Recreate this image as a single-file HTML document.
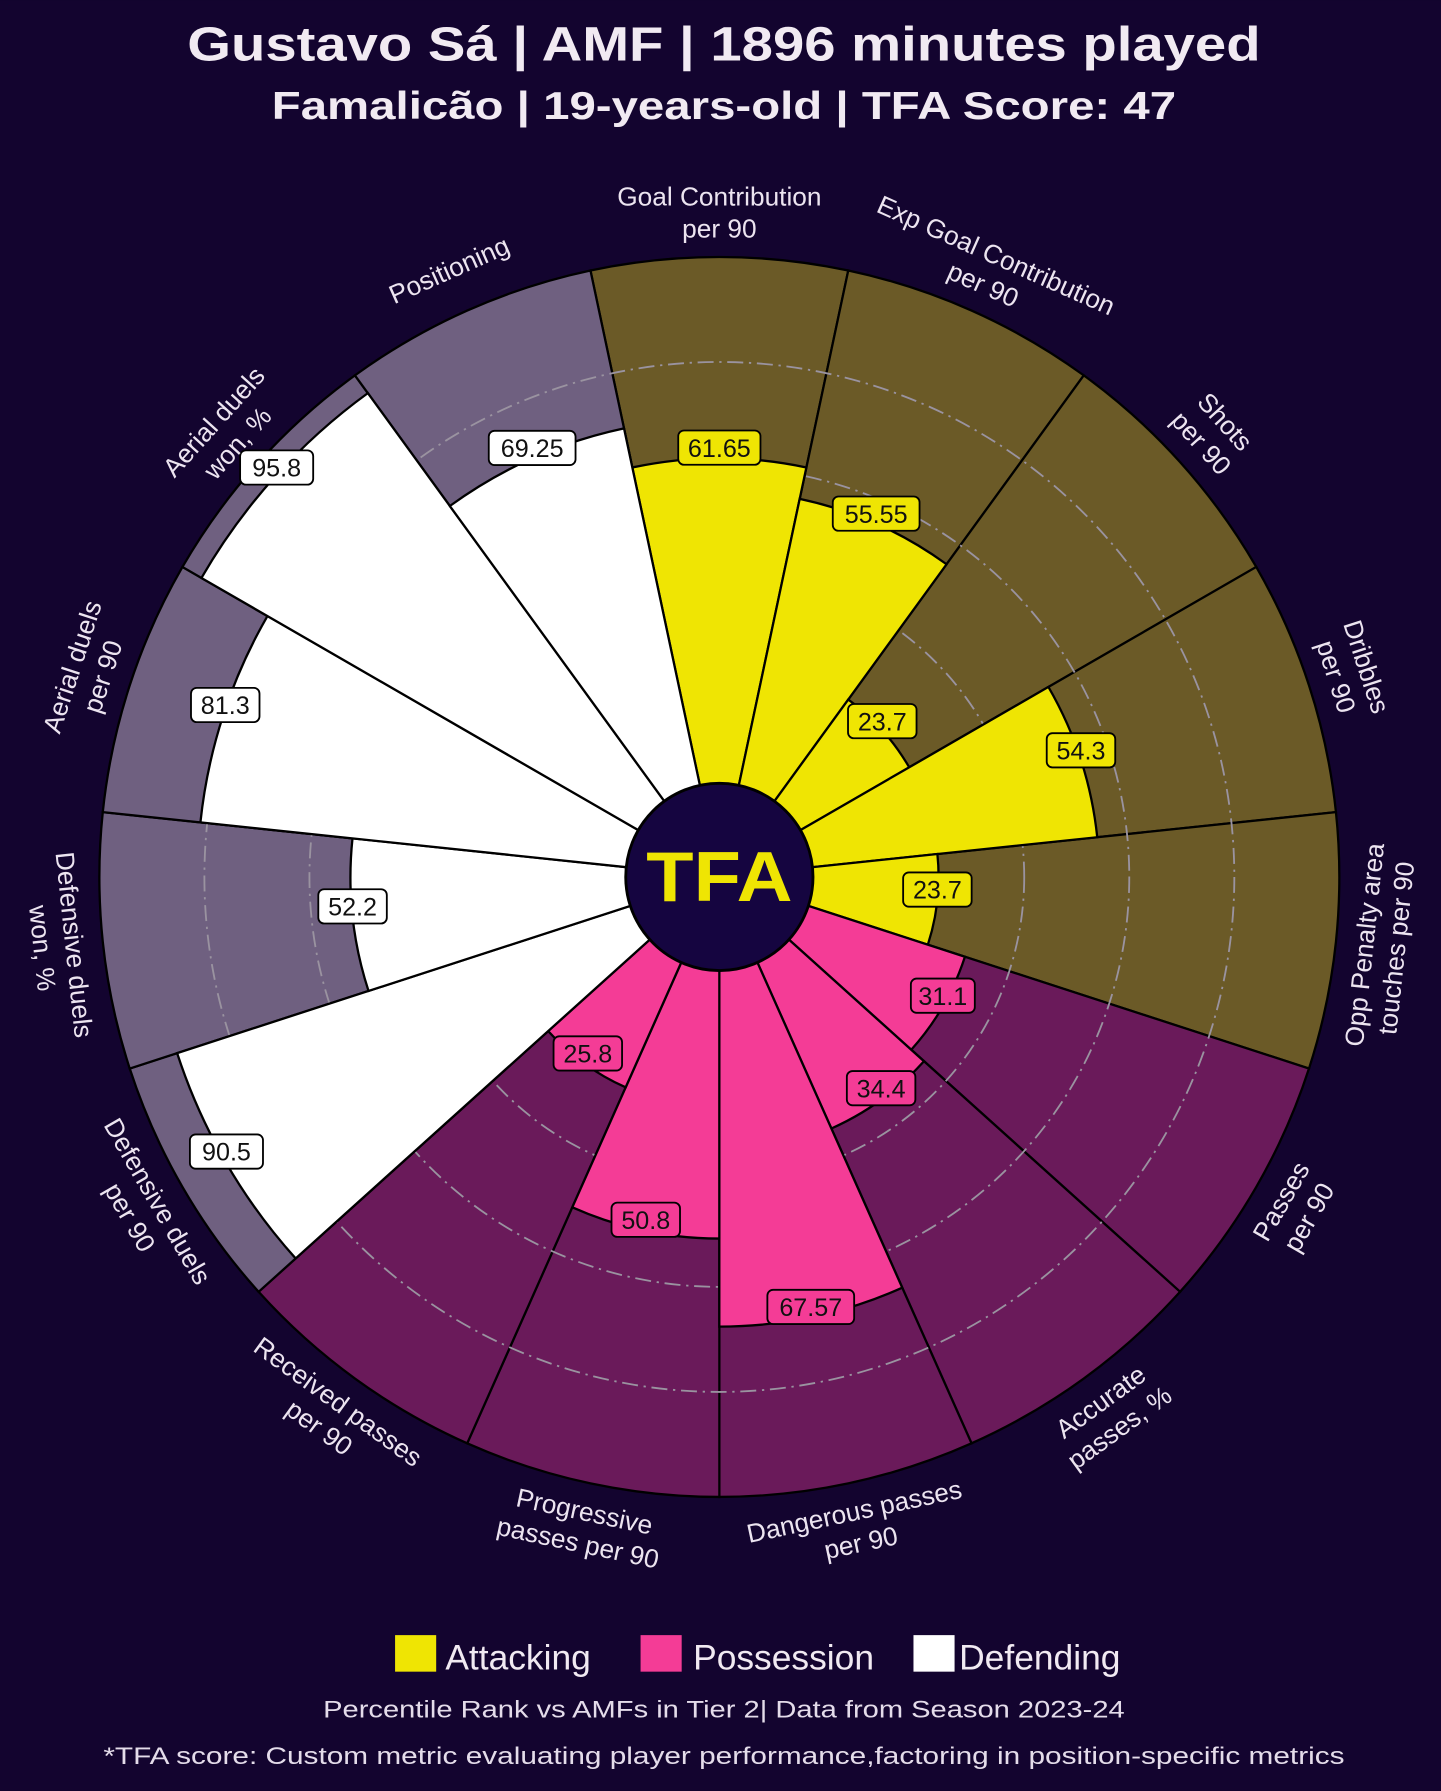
<!DOCTYPE html>
<html><head><meta charset="utf-8"><style>
html,body{margin:0;padding:0;background:#13042f;}
svg{display:block;}
text{font-family:"Liberation Sans",sans-serif;}
</style></head><body>
<svg width="1441" height="1791" viewBox="0 0 1262 1568.5" xmlns="http://www.w3.org/2000/svg">
<rect width="1262" height="1568.5" fill="#13042f"/>
<text x="634" y="53" text-anchor="middle" font-size="42" font-weight="bold" fill="#f1eaf2" textLength="940" lengthAdjust="spacingAndGlyphs">Gustavo Sá | AMF | 1896 minutes played</text>
<text x="634" y="104" text-anchor="middle" font-size="34" font-weight="bold" fill="#f1eaf2" textLength="792" lengthAdjust="spacingAndGlyphs">Famalicão | 19-years-old | TFA Score: 47</text>

<g transform="translate(630,768)" stroke="#000" stroke-width="2">
<g id="bgA"><path d="M0,0 L-112.9,-531.1 A543,543 0 0 1 112.9,-531.1 Z" fill="#6b5a27"/></g>
<use href="#bgA" transform="rotate(24)"/>
<use href="#bgA" transform="rotate(48)"/>
<use href="#bgA" transform="rotate(72)"/>
<use href="#bgA" transform="rotate(96)"/>
<path transform="rotate(120)" d="M0,0 L-112.9,-531.1 A543,543 0 0 1 112.9,-531.1 Z" fill="#6a1a5a"/>
<path transform="rotate(144)" d="M0,0 L-112.9,-531.1 A543,543 0 0 1 112.9,-531.1 Z" fill="#6a1a5a"/>
<path transform="rotate(168)" d="M0,0 L-112.9,-531.1 A543,543 0 0 1 112.9,-531.1 Z" fill="#6a1a5a"/>
<path transform="rotate(192)" d="M0,0 L-112.9,-531.1 A543,543 0 0 1 112.9,-531.1 Z" fill="#6a1a5a"/>
<path transform="rotate(216)" d="M0,0 L-112.9,-531.1 A543,543 0 0 1 112.9,-531.1 Z" fill="#6a1a5a"/>
<path transform="rotate(240)" d="M0,0 L-112.9,-531.1 A543,543 0 0 1 112.9,-531.1 Z" fill="#6f6080"/>
<path transform="rotate(264)" d="M0,0 L-112.9,-531.1 A543,543 0 0 1 112.9,-531.1 Z" fill="#6f6080"/>
<path transform="rotate(288)" d="M0,0 L-112.9,-531.1 A543,543 0 0 1 112.9,-531.1 Z" fill="#6f6080"/>
<path transform="rotate(312)" d="M0,0 L-112.9,-531.1 A543,543 0 0 1 112.9,-531.1 Z" fill="#6f6080"/>
<path transform="rotate(336)" d="M0,0 L-112.9,-531.1 A543,543 0 0 1 112.9,-531.1 Z" fill="#6f6080"/>
<g fill="none" stroke="#9a93a0" stroke-width="1.6" stroke-dasharray="14,5,2,5">
<circle r="175"/><circle r="267"/><circle r="359"/><circle r="451"/>
</g>
<path d="M0,0 L-76.2,-358.6 A366.6,366.6 0 0 1 76.2,-358.6 Z" fill="#efe503"/>
<path transform="rotate(24)" d="M0,0 L-70.4,-331.1 A338.5,338.5 0 0 1 70.4,-331.1 Z" fill="#efe503"/>
<path transform="rotate(48)" d="M0,0 L-39.9,-187.8 A192,192 0 0 1 39.9,-187.8 Z" fill="#efe503"/>
<path transform="rotate(72)" d="M0,0 L-69.2,-325.5 A332.8,332.8 0 0 1 69.2,-325.5 Z" fill="#efe503"/>
<path transform="rotate(96)" d="M0,0 L-39.9,-187.8 A192,192 0 0 1 39.9,-187.8 Z" fill="#efe503"/>
<path transform="rotate(120)" d="M0,0 L-47,-221.2 A226.1,226.1 0 0 1 47,-221.2 Z" fill="#f43c96"/>
<path transform="rotate(144)" d="M0,0 L-50.1,-235.9 A241.2,241.2 0 0 1 50.1,-235.9 Z" fill="#f43c96"/>
<path transform="rotate(168)" d="M0,0 L-81.9,-385.2 A393.8,393.8 0 0 1 81.9,-385.2 Z" fill="#f43c96"/>
<path transform="rotate(192)" d="M0,0 L-65.8,-309.8 A316.7,316.7 0 0 1 65.8,-309.8 Z" fill="#f43c96"/>
<path transform="rotate(216)" d="M0,0 L-41.9,-197.3 A201.7,201.7 0 0 1 41.9,-197.3 Z" fill="#f43c96"/>
<path transform="rotate(240)" d="M0,0 L-103.8,-488.4 A499.3,499.3 0 0 1 103.8,-488.4 Z" fill="#ffffff"/>
<path transform="rotate(264)" d="M0,0 L-67.2,-316 A323.1,323.1 0 0 1 67.2,-316 Z" fill="#ffffff"/>
<path transform="rotate(288)" d="M0,0 L-95,-447 A457,457 0 0 1 95,-447 Z" fill="#ffffff"/>
<path transform="rotate(312)" d="M0,0 L-108.9,-512.3 A523.7,523.7 0 0 1 108.9,-512.3 Z" fill="#ffffff"/>
<path transform="rotate(336)" d="M0,0 L-83.5,-392.8 A401.6,401.6 0 0 1 83.5,-392.8 Z" fill="#ffffff"/>
<circle r="82" fill="#150540" stroke="#000" stroke-width="2.5"/>
<text x="0" y="21" text-anchor="middle" font-size="62" font-weight="900" fill="#efe503" stroke="none" textLength="128" lengthAdjust="spacingAndGlyphs">TFA</text>
</g>

<g font-size="22" text-anchor="middle" stroke-width="1.6">
<g transform="translate(630,768) rotate(0) translate(0,-376) rotate(0)"><rect x="-36" y="-15" width="72" height="30" rx="5" fill="#efe503" stroke="#000"/><text y="8" fill="#111">61.65</text></g>
<g transform="translate(627,765) rotate(24) translate(0,-345) rotate(-24)"><rect x="-38" y="-15" width="76" height="30" rx="5" fill="#efe503" stroke="#000"/><text y="8" fill="#111">55.55</text></g>
<g transform="translate(630,760) rotate(48) translate(0,-192) rotate(-48)"><rect x="-30" y="-15" width="60" height="30" rx="5" fill="#efe503" stroke="#000"/><text y="8" fill="#111">23.7</text></g>
<g transform="translate(630,760) rotate(72) translate(0,-333) rotate(-72)"><rect x="-30" y="-15" width="60" height="30" rx="5" fill="#efe503" stroke="#000"/><text y="8" fill="#111">54.3</text></g>
<g transform="translate(630,759) rotate(96) translate(0,-192) rotate(-96)"><rect x="-30" y="-15" width="60" height="30" rx="5" fill="#efe503" stroke="#000"/><text y="8" fill="#111">23.7</text></g>
<g transform="translate(630,759) rotate(120) translate(0,-226) rotate(-120)"><rect x="-28" y="-15" width="56" height="30" rx="5" fill="#f43c96" stroke="#000"/><text y="8" fill="#111">31.1</text></g>
<g transform="translate(630,758) rotate(144) translate(0,-241) rotate(-144)"><rect x="-30" y="-15" width="60" height="30" rx="5" fill="#f43c96" stroke="#000"/><text y="8" fill="#111">34.4</text></g>
<g transform="translate(630,768) rotate(168) translate(0,-385) rotate(-168)"><rect x="-38" y="-15" width="76" height="30" rx="5" fill="#f43c96" stroke="#000"/><text y="8" fill="#111">67.57</text></g>
<g transform="translate(630,765) rotate(192) translate(0,-310) rotate(-192)"><rect x="-30" y="-15" width="60" height="30" rx="5" fill="#f43c96" stroke="#000"/><text y="8" fill="#111">50.8</text></g>
<g transform="translate(630,764) rotate(216) translate(0,-196) rotate(-216)"><rect x="-30" y="-15" width="60" height="30" rx="5" fill="#f43c96" stroke="#000"/><text y="8" fill="#111">25.8</text></g>
<g transform="translate(627,761) rotate(240) translate(0,-495) rotate(-240)"><rect x="-32" y="-15" width="64" height="30" rx="5" fill="#fff" stroke="#000"/><text y="8" fill="#111">90.5</text></g>
<g transform="translate(630,760) rotate(264) translate(0,-323) rotate(-264)"><rect x="-30" y="-15" width="60" height="30" rx="5" fill="#fff" stroke="#000"/><text y="8" fill="#111">52.2</text></g>
<g transform="translate(630,758) rotate(288) translate(0,-455) rotate(-288)"><rect x="-30" y="-15" width="60" height="30" rx="5" fill="#fff" stroke="#000"/><text y="8" fill="#111">81.3</text></g>
<g transform="translate(625,754) rotate(312) translate(0,-515) rotate(-312)"><rect x="-32" y="-15" width="64" height="30" rx="5" fill="#fff" stroke="#000"/><text y="8" fill="#111">95.8</text></g>
<g transform="translate(632,765) rotate(336) translate(0,-408) rotate(-336)"><rect x="-38" y="-15" width="76" height="30" rx="5" fill="#fff" stroke="#000"/><text y="8" fill="#111">69.25</text></g>
</g>

<g font-size="23" text-anchor="middle" fill="#ece4f0">
<g transform="translate(630,768) rotate(0) translate(0,-582)"><text y="-6">Goal Contribution</text><text y="22">per 90</text></g>
<g transform="translate(630,768) rotate(24) translate(0,-582)"><text y="-6">Exp Goal Contribution</text><text y="22">per 90</text></g>
<g transform="translate(630,768) rotate(48) translate(0,-582)"><text y="-6">Shots</text><text y="22">per 90</text></g>
<g transform="translate(630,768) rotate(72) translate(0,-582)"><text y="-6">Dribbles</text><text y="22">per 90</text></g>
<g transform="translate(630,768) rotate(96) translate(0,-582) rotate(180)"><text y="-6">Opp Penalty area</text><text y="22">touches per 90</text></g>
<g transform="translate(630,768) rotate(120) translate(0,-582) rotate(180)"><text y="-6">Passes</text><text y="22">per 90</text></g>
<g transform="translate(630,768) rotate(144) translate(0,-582) rotate(180)"><text y="-6">Accurate</text><text y="22">passes, %</text></g>
<g transform="translate(630,768) rotate(168) translate(0,-582) rotate(180)"><text y="-6">Dangerous passes</text><text y="22">per 90</text></g>
<g transform="translate(630,768) rotate(192) translate(0,-582) rotate(180)"><text y="-6">Progressive</text><text y="22">passes per 90</text></g>
<g transform="translate(630,768) rotate(216) translate(0,-582) rotate(180)"><text y="-6">Received passes</text><text y="22">per 90</text></g>
<g transform="translate(630,768) rotate(240) translate(0,-582) rotate(180)"><text y="-6">Defensive duels</text><text y="22">per 90</text></g>
<g transform="translate(630,768) rotate(264) translate(0,-582) rotate(180)"><text y="-6">Defensive duels</text><text y="22">won, %</text></g>
<g transform="translate(630,768) rotate(288) translate(0,-582)"><text y="-6">Aerial duels</text><text y="22">per 90</text></g>
<g transform="translate(630,768) rotate(312) translate(0,-582)"><text y="-6">Aerial duels</text><text y="22">won, %</text></g>
<g transform="translate(630,768) rotate(336) translate(0,-582)"><text y="8">Positioning</text></g>
</g>

<rect x="346" y="1432" width="36" height="32" fill="#efe503"/>
<text x="390" y="1462" font-size="31" fill="#f1eaf2">Attacking</text>
<rect x="561" y="1432" width="36" height="32" fill="#f43c96"/>
<text x="607" y="1462" font-size="31" fill="#f1eaf2">Possession</text>
<rect x="800" y="1432" width="36" height="32" fill="#ffffff"/>
<text x="840" y="1462" font-size="31" fill="#f1eaf2">Defending</text>
<text x="634" y="1504" text-anchor="middle" font-size="21" fill="#e4dcea" textLength="702" lengthAdjust="spacingAndGlyphs">Percentile Rank vs AMFs in Tier 2| Data from Season 2023-24</text>
<text x="634" y="1545" text-anchor="middle" font-size="21" fill="#e4dcea" textLength="1087" lengthAdjust="spacingAndGlyphs">*TFA score: Custom metric evaluating player performance,factoring in position-specific metrics</text>
</svg>
</body></html>
